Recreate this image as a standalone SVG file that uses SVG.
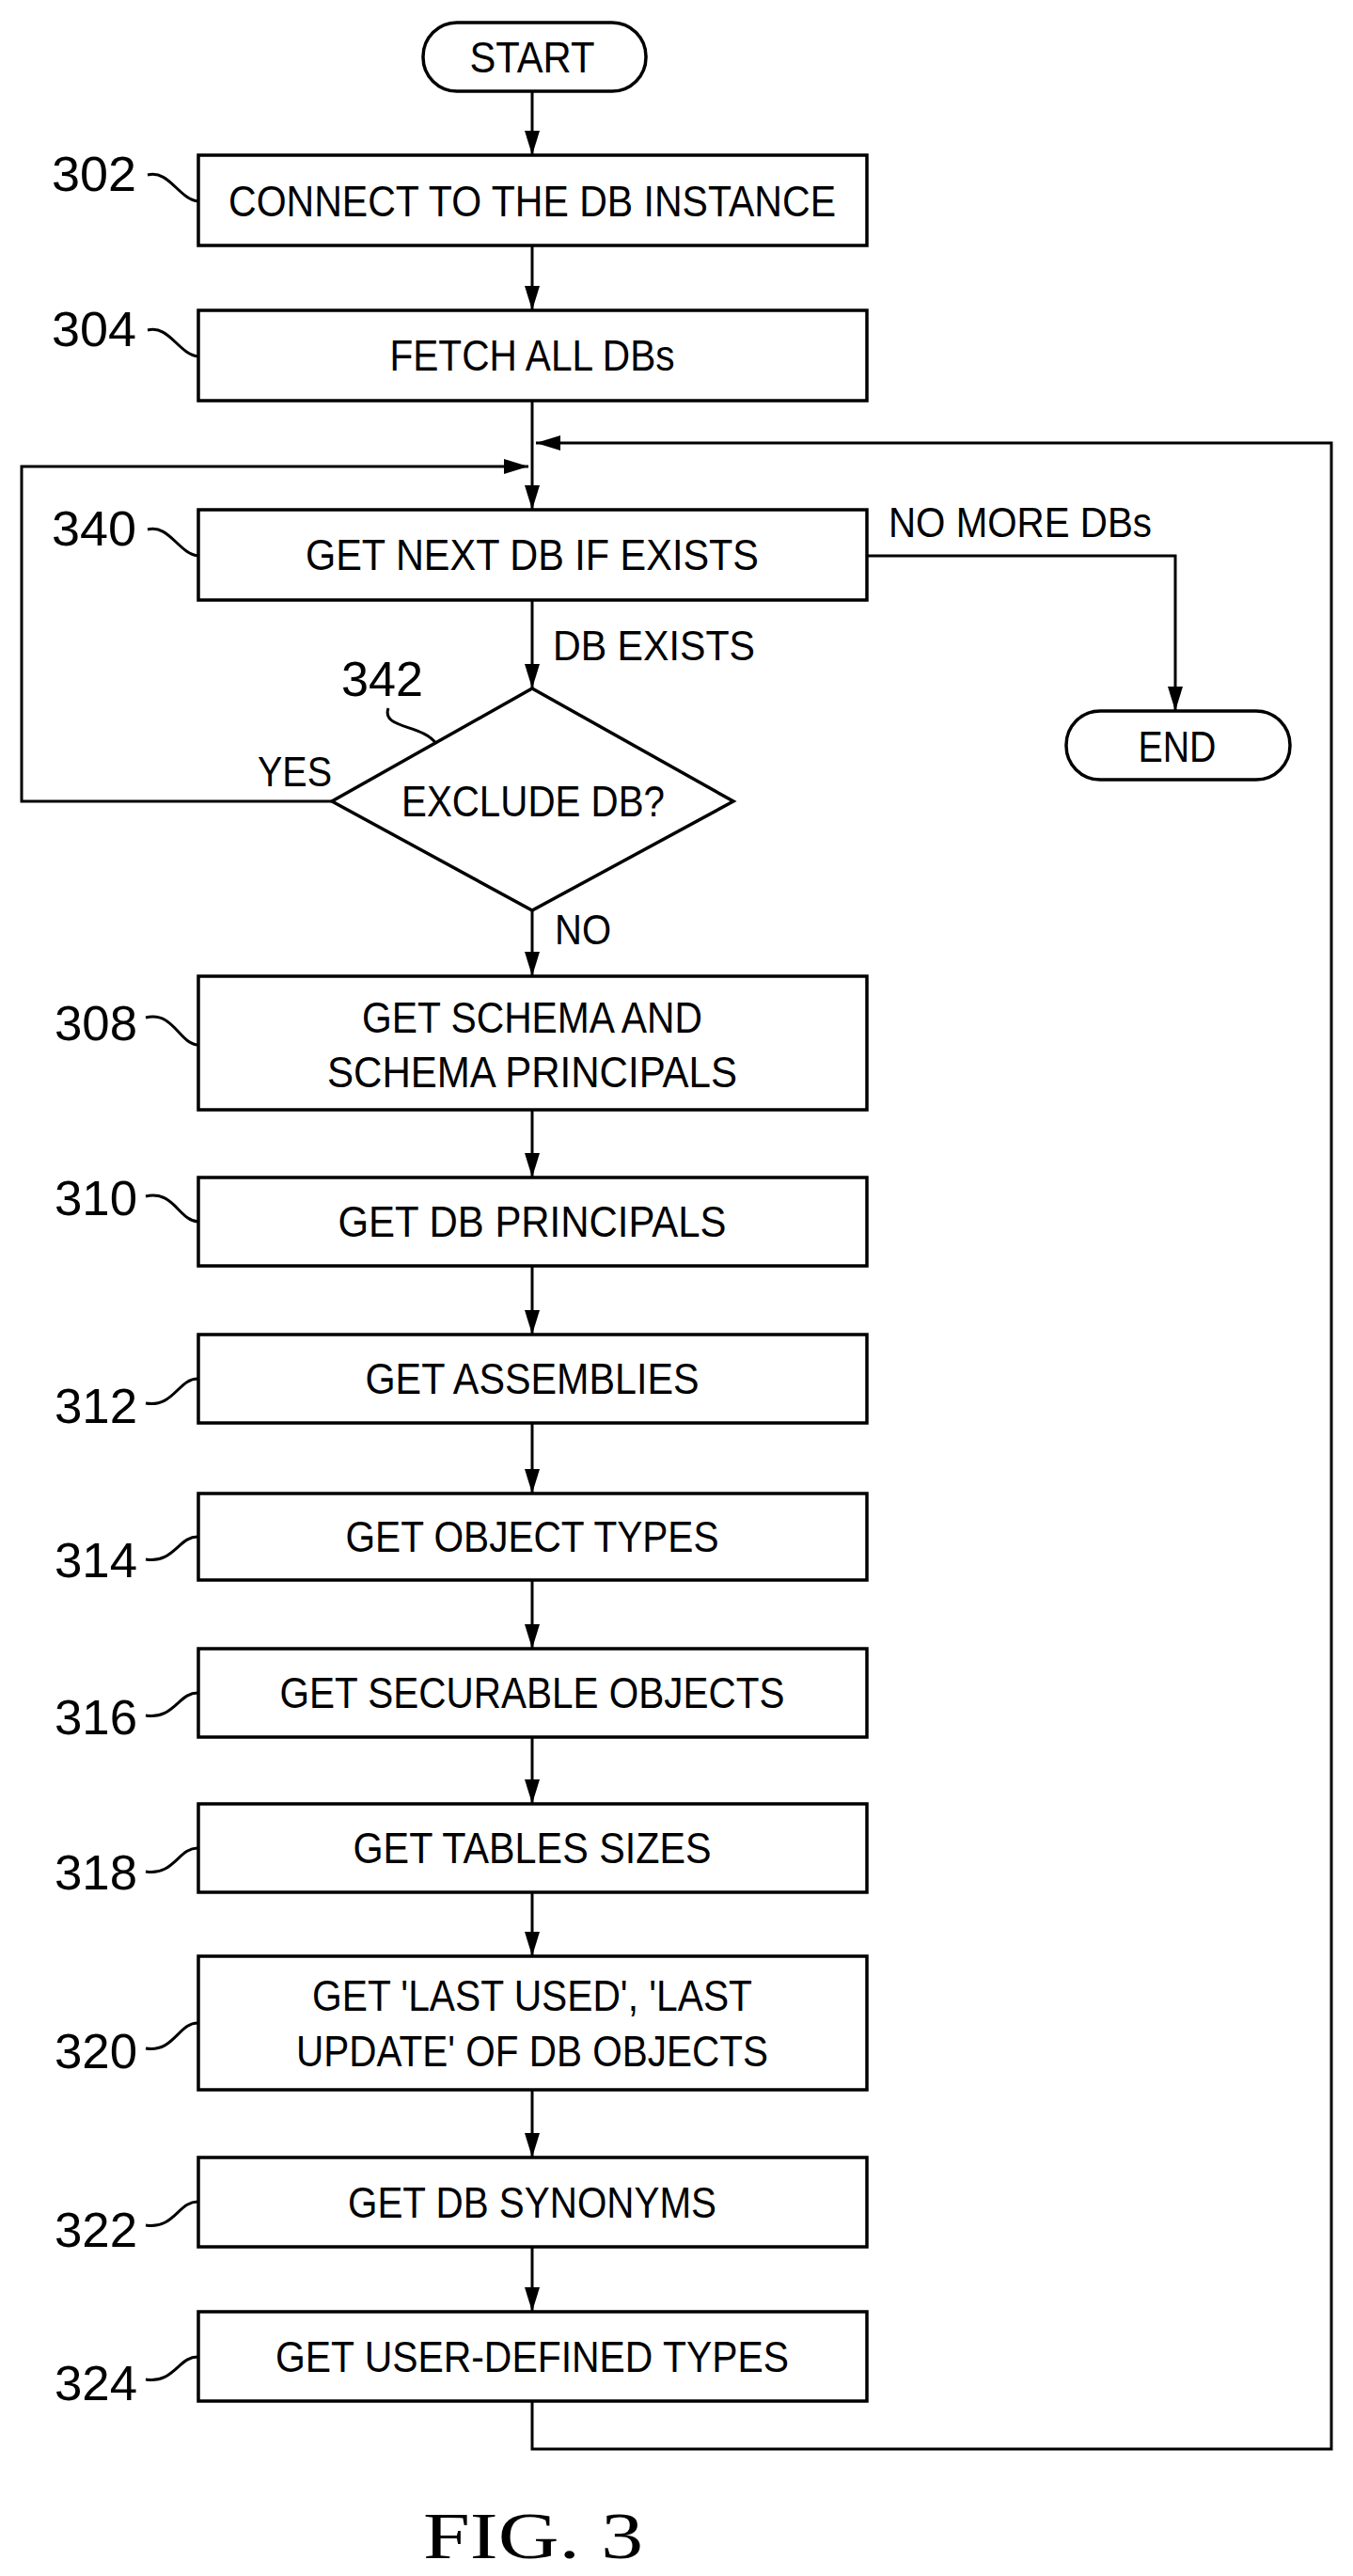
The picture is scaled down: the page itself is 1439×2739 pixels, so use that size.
<svg xmlns="http://www.w3.org/2000/svg" width="1439" height="2739" viewBox="0 0 1439 2739">
<style>
.b{fill:#fff;stroke:#000;stroke-width:3.5}
.l{fill:none;stroke:#000;stroke-width:3}
.t{font-family:"Liberation Sans",Arial,sans-serif;font-size:46px;fill:#000;text-anchor:middle}
.s{font-family:"Liberation Sans",Arial,sans-serif;font-size:46px;fill:#000;text-anchor:middle}
.n{font-family:"Liberation Sans",Arial,sans-serif;font-size:52px;fill:#000}
.q{font-family:"Liberation Sans",Arial,sans-serif;font-size:44px;fill:#000}
</style>
<defs>
<marker id="h" viewBox="0 0 26 16" refX="26" refY="8" markerWidth="26" markerHeight="16" markerUnits="userSpaceOnUse" orient="auto"><path d="M0,0 L26,8 L0,16 Z" fill="#000"/></marker>
</defs>
<g id="connectors">
<path class="l" d="M566,97 V165" marker-end="url(#h)"/>
<path class="l" d="M566,261 V330" marker-end="url(#h)"/>
<path class="l" d="M566,426 V542" marker-end="url(#h)"/>
<path class="l" d="M566,638 V732" marker-end="url(#h)"/>
<path class="l" d="M922,591 H1250 V756" marker-end="url(#h)"/>
<path class="l" d="M353,852 H23 V496 H562" marker-end="url(#h)"/>
<path class="l" d="M566,968 V1038" marker-end="url(#h)"/>
<path class="l" d="M566,1180 V1252" marker-end="url(#h)"/>
<path class="l" d="M566,1346 V1419" marker-end="url(#h)"/>
<path class="l" d="M566,1513 V1588" marker-end="url(#h)"/>
<path class="l" d="M566,1680 V1753" marker-end="url(#h)"/>
<path class="l" d="M566,1847 V1918" marker-end="url(#h)"/>
<path class="l" d="M566,2012 V2080" marker-end="url(#h)"/>
<path class="l" d="M566,2222 V2294" marker-end="url(#h)"/>
<path class="l" d="M566,2389 V2458" marker-end="url(#h)"/>
<path class="l" d="M566,2553 V2604 H1416 V471 H570" marker-end="url(#h)"/>
<text class="q" x="945" y="571" textLength="280" lengthAdjust="spacingAndGlyphs">NO MORE DBs</text>
<text class="q" x="588" y="702" textLength="215" lengthAdjust="spacingAndGlyphs">DB EXISTS</text>
<text class="q" x="274" y="836" textLength="79" lengthAdjust="spacingAndGlyphs">YES</text>
<text class="q" x="590" y="1004" textLength="60" lengthAdjust="spacingAndGlyphs">NO</text>
</g>
<g id="start"><rect class="b" x="450" y="24" width="237" height="73" rx="36"/><text class="t" x="566" y="77" textLength="133" lengthAdjust="spacingAndGlyphs">START</text></g>
<g id="n302"><rect class="b" x="211" y="165" width="711" height="96"/><text class="t" x="566" y="230" textLength="646" lengthAdjust="spacingAndGlyphs">CONNECT TO THE DB INSTANCE</text>
<text class="n" x="55" y="203" textLength="90" lengthAdjust="spacingAndGlyphs">302</text><path class="l" stroke-width="1.5" d="M157,186 C180,180 190,212 211,214"/></g>
<g id="n304"><rect class="b" x="211" y="330" width="711" height="96"/><text class="t" x="566" y="394" textLength="303" lengthAdjust="spacingAndGlyphs">FETCH ALL DBs</text>
<text class="n" x="55" y="368" textLength="90" lengthAdjust="spacingAndGlyphs">304</text><path class="l" stroke-width="1.5" d="M157,351 C180,345 190,377 211,379"/></g>
<g id="n340"><rect class="b" x="211" y="542" width="711" height="96"/><text class="t" x="566" y="606" textLength="482" lengthAdjust="spacingAndGlyphs">GET NEXT DB IF EXISTS</text>
<text class="n" x="55" y="580" textLength="90" lengthAdjust="spacingAndGlyphs">340</text><path class="l" stroke-width="1.5" d="M157,563 C180,557 190,589 211,591"/></g>
<g id="end"><rect class="b" x="1134" y="756" width="238" height="73" rx="36"/><text class="t" x="1252" y="810" textLength="83" lengthAdjust="spacingAndGlyphs">END</text></g>
<g id="n342"><path class="b" d="M566,732 L780,852 L566,968 L353,852 Z"/><text class="t" x="567" y="868" textLength="280" lengthAdjust="spacingAndGlyphs">EXCLUDE DB?</text>
<text class="n" x="363" y="740" textLength="87" lengthAdjust="spacingAndGlyphs">342</text><path class="l" stroke-width="1.5" d="M413,753 C405,775 450,770 464,791"/></g>
<g id="n308"><rect class="b" x="211" y="1038" width="711" height="142"/><text class="s" x="566" y="1098" textLength="362" lengthAdjust="spacingAndGlyphs">GET SCHEMA AND</text><text class="s" x="566" y="1156" textLength="436" lengthAdjust="spacingAndGlyphs">SCHEMA PRINCIPALS</text>
<text class="n" x="58" y="1106" textLength="88" lengthAdjust="spacingAndGlyphs">308</text><path class="l" stroke-width="1.5" d="M155,1082 C185,1075 190,1110 211,1111"/></g>
<g id="n310"><rect class="b" x="211" y="1252" width="711" height="94"/><text class="s" x="566" y="1315" textLength="413" lengthAdjust="spacingAndGlyphs">GET DB PRINCIPALS</text>
<text class="n" x="58" y="1292" textLength="88" lengthAdjust="spacingAndGlyphs">310</text><path class="l" stroke-width="1.5" d="M155,1272 C185,1265 190,1298 211,1299"/></g>
<g id="n312"><rect class="b" x="211" y="1419" width="711" height="94"/><text class="s" x="566" y="1482" textLength="355" lengthAdjust="spacingAndGlyphs">GET ASSEMBLIES</text>
<text class="n" x="58" y="1513" textLength="88" lengthAdjust="spacingAndGlyphs">312</text><path class="l" stroke-width="1.5" d="M155,1492 C185,1497 190,1465 211,1466"/></g>
<g id="n314"><rect class="b" x="211" y="1588" width="711" height="92"/><text class="s" x="566" y="1650" textLength="397" lengthAdjust="spacingAndGlyphs">GET OBJECT TYPES</text>
<text class="n" x="58" y="1677" textLength="88" lengthAdjust="spacingAndGlyphs">314</text><path class="l" stroke-width="1.5" d="M155,1658 C185,1663 190,1633 211,1634"/></g>
<g id="n316"><rect class="b" x="211" y="1753" width="711" height="94"/><text class="s" x="566" y="1816" textLength="537" lengthAdjust="spacingAndGlyphs">GET SECURABLE OBJECTS</text>
<text class="n" x="58" y="1844" textLength="88" lengthAdjust="spacingAndGlyphs">316</text><path class="l" stroke-width="1.5" d="M155,1824 C185,1829 190,1799 211,1800"/></g>
<g id="n318"><rect class="b" x="211" y="1918" width="711" height="94"/><text class="s" x="566" y="1981" textLength="381" lengthAdjust="spacingAndGlyphs">GET TABLES SIZES</text>
<text class="n" x="58" y="2009" textLength="88" lengthAdjust="spacingAndGlyphs">318</text><path class="l" stroke-width="1.5" d="M155,1990 C185,1995 190,1964 211,1965"/></g>
<g id="n320"><rect class="b" x="211" y="2080" width="711" height="142"/><text class="s" x="566" y="2138" textLength="468" lengthAdjust="spacingAndGlyphs">GET 'LAST USED', 'LAST</text><text class="s" x="566" y="2197" textLength="502" lengthAdjust="spacingAndGlyphs">UPDATE' OF DB OBJECTS</text>
<text class="n" x="58" y="2199" textLength="88" lengthAdjust="spacingAndGlyphs">320</text><path class="l" stroke-width="1.5" d="M155,2178 C185,2183 190,2150 211,2151"/></g>
<g id="n322"><rect class="b" x="211" y="2294" width="711" height="95"/><text class="s" x="566" y="2358" textLength="392" lengthAdjust="spacingAndGlyphs">GET DB SYNONYMS</text>
<text class="n" x="58" y="2389" textLength="88" lengthAdjust="spacingAndGlyphs">322</text><path class="l" stroke-width="1.5" d="M155,2366 C185,2371 190,2340 211,2341"/></g>
<g id="n324"><rect class="b" x="211" y="2458" width="711" height="95"/><text class="s" x="566" y="2522" textLength="546" lengthAdjust="spacingAndGlyphs">GET USER-DEFINED TYPES</text>
<text class="n" x="58" y="2552" textLength="88" lengthAdjust="spacingAndGlyphs">324</text><path class="l" stroke-width="1.5" d="M155,2530 C185,2535 190,2505 211,2506"/></g>
<text x="450" y="2720" font-family="'Liberation Serif','Times New Roman',serif" font-size="70" textLength="234" lengthAdjust="spacingAndGlyphs">FIG. 3</text>
</svg>
